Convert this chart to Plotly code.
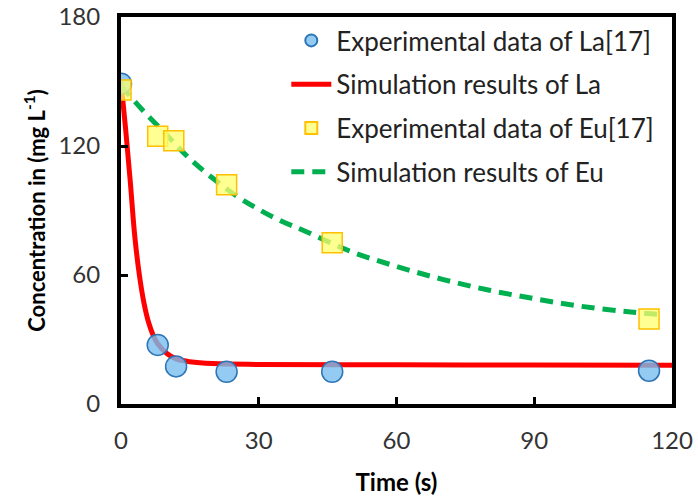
import plotly.graph_objects as go

la_t = [0, 8, 12, 23, 46, 115]
la_c = [149, 27.5, 17.5, 15, 15, 15.5]
eu_t = [0, 8, 11.5, 23, 46, 115]
eu_c = [146, 124.5, 122.5, 102, 75, 39.5]

# Simulation curves
la_sim_t = [0, 1, 2, 3, 4, 5, 6, 7, 8, 10, 12, 15, 20, 30, 60, 90, 120]
la_sim_c = [150, 128, 104, 78, 60, 47, 38, 32, 28, 23.5, 21, 19.7, 18.8, 18.4, 18.2, 18.1, 18.0]
eu_sim_t = [0, 5, 10, 15, 20, 25, 30, 35, 40, 50, 60, 70, 80, 90, 100, 110, 118]
eu_sim_c = [148, 136, 125, 114, 105, 97, 90.5, 85, 80.5, 71, 64, 58, 53, 49, 45.5, 43, 41.5]

x_ticks = [0, 30, 60, 90, 120]
y_ticks = [0, 60, 120, 180]

FONT = "Lato"
fig = go.Figure()

fig.add_trace(go.Scatter(x=la_sim_t, y=la_sim_c, mode="lines", name="Simulation results of La",
                         line=dict(color="#ff0000", width=5, shape="spline"), legendrank=2, legendgroup="b"))
fig.add_trace(go.Scatter(x=eu_sim_t, y=eu_sim_c, mode="lines", name="Simulation results of Eu",
                         line=dict(color="#00b050", width=5, dash="13px,8px", shape="spline"), legendrank=4, legendgroup="d"))
fig.add_trace(go.Scatter(x=la_t, y=la_c, mode="markers", name="Experimental data of La[17]",
                         marker=dict(symbol="circle", size=21, color="rgba(120,190,240,0.8)",
                                     line=dict(color="#2e75b6", width=1.5)), legendrank=1, legendgroup="a"))
fig.add_trace(go.Scatter(x=eu_t, y=eu_c, mode="markers", name="Experimental data of Eu[17]",
                         marker=dict(symbol="square", size=20, color="rgba(255,255,110,0.75)",
                                     line=dict(color="#ffc000", width=1.5)), legendrank=3, legendgroup="c"))

axis_common = dict(showgrid=False, zeroline=False, showline=True, linecolor="black", linewidth=4,
                   mirror=True, ticks="inside", ticklen=7, tickwidth=3, tickcolor="black",
                   automargin=False,
                   tickfont=dict(family=FONT, size=24, color="#333333"))

fig.update_layout(
    width=698, height=504,
    margin=dict(l=121, r=26, t=17, b=100),
    paper_bgcolor="white", plot_bgcolor="white",
    showlegend=True,
    legend=dict(x=0.30, y=1.0, xanchor="left", yanchor="top", bgcolor="rgba(0,0,0,0)",
                font=dict(family=FONT, size=26, color="#222222"), tracegroupgap=7,
                itemsizing="constant", traceorder="grouped", itemwidth=40),
    xaxis=dict(range=[0, 120], tickvals=x_ticks, ticklabelstandoff=12,
               title=dict(text="<b>Time (s)</b>", font=dict(family=FONT, size=24, color="black"), standoff=22),
               **axis_common),
    yaxis=dict(range=[0, 180], tickvals=y_ticks, ticklabelstandoff=12,
               title=dict(text="<b>Concentration in (mg L<sup>-1</sup>)</b>", font=dict(family=FONT, size=22, color="black"), standoff=8),
               **axis_common),
)

fig.write_html("out.html")
